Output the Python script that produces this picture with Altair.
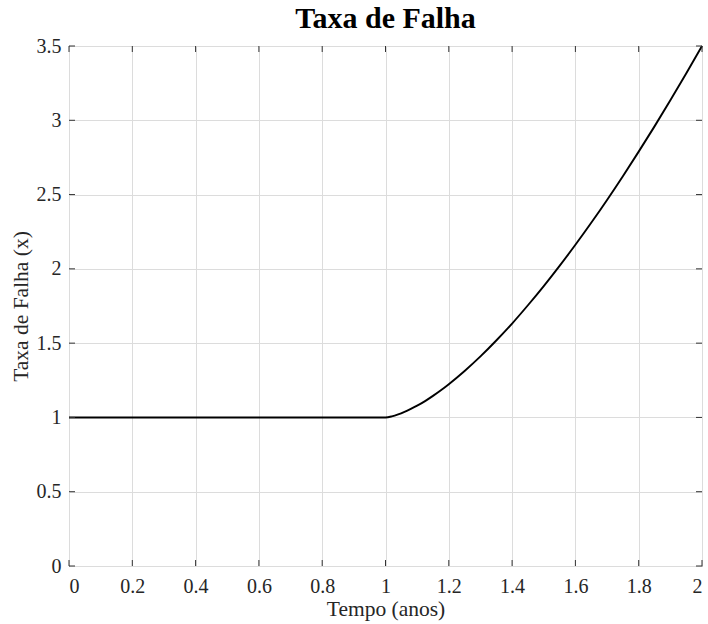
import altair as alt
import pandas as pd

# Failure rate over time: constant up to year 1, then increasing
tempo = [0.0, 0.5, 1.0, 1.02, 1.04, 1.06, 1.08, 1.10, 1.125, 1.15, 1.175, 1.20,
         1.25, 1.30, 1.35, 1.40, 1.45, 1.50, 1.55, 1.60, 1.65, 1.70, 1.75,
         1.80, 1.85, 1.90, 1.95, 2.00]
taxa = [1.0, 1.0, 1.0, 1.007, 1.020, 1.037, 1.057, 1.079, 1.110, 1.145, 1.183, 1.224,
        1.313, 1.411, 1.518, 1.632, 1.755, 1.884, 2.020, 2.162, 2.310, 2.464, 2.624,
        2.789, 2.959, 3.135, 3.315, 3.5]

x_ticks = [0, 0.2, 0.4, 0.6, 0.8, 1.0, 1.2, 1.4, 1.6, 1.8, 2.0]
y_ticks = [0, 0.5, 1.0, 1.5, 2.0, 2.5, 3.0, 3.5]

W, H = 633, 520
TICK = 6
FONT = "Liberation Serif"

df = pd.DataFrame({"t": tempo, "taxa": taxa})
xdf = pd.DataFrame({"v": x_ticks})
ydf = pd.DataFrame({"v": y_ticks})

xs = alt.Scale(domain=[0, 2], nice=False, zero=False)
ys = alt.Scale(domain=[0, 3.5], nice=False, zero=False)

line = alt.Chart(df).mark_line(color="black", strokeWidth=1.9, interpolate="monotone").encode(
    x=alt.X("t:Q", scale=xs, title="Tempo (anos)",
            axis=alt.Axis(values=x_ticks, grid=True, tickSize=0, labelPadding=10,
                          titlePadding=2, labelExpr="format(datum.value, '.1~f')")),
    y=alt.Y("taxa:Q", scale=ys, title="Taxa de Falha (x)",
            axis=alt.Axis(values=y_ticks, grid=True, tickSize=0, labelPadding=8,
                          titlePadding=4, labelExpr="format(datum.value, '.1~f')")),
)

# inward tick marks on all four sides of the box
tick_style = dict(color="#333333", strokeWidth=1)
bottom_ticks = alt.Chart(xdf).mark_rule(**tick_style).encode(
    x=alt.X("v:Q", scale=xs), y=alt.value(H), y2=alt.value(H - TICK))
top_ticks = alt.Chart(xdf).mark_rule(**tick_style).encode(
    x=alt.X("v:Q", scale=xs), y=alt.value(0), y2=alt.value(TICK))
left_ticks = alt.Chart(ydf).mark_rule(**tick_style).encode(
    y=alt.Y("v:Q", scale=ys), x=alt.value(0), x2=alt.value(TICK))
right_ticks = alt.Chart(ydf).mark_rule(**tick_style).encode(
    y=alt.Y("v:Q", scale=ys), x=alt.value(W), x2=alt.value(W - TICK))

chart = alt.layer(line, bottom_ticks, top_ticks, left_ticks, right_ticks).properties(
    width=W, height=H,
    background="white",
    title=alt.TitleParams("Taxa de Falha", font=FONT, fontSize=30, fontWeight="bold",
                          color="black", anchor="middle", offset=2),
    autosize=alt.AutoSizeParams(type="none"),
    padding={"left": 69, "top": 46, "right": 6, "bottom": 58},
).configure_view(
    stroke="#333333", strokeWidth=1
).configure_axis(
    domain=False,
    gridColor="#dcdcdc", gridWidth=1,
    labelFont=FONT, labelFontSize=20, labelColor="#262626",
    titleFont=FONT, titleFontSize=21.5, titleColor="#262626", titleFontWeight="normal",
)

chart.save("out.html", embed_options={"renderer": "svg", "actions": False})
